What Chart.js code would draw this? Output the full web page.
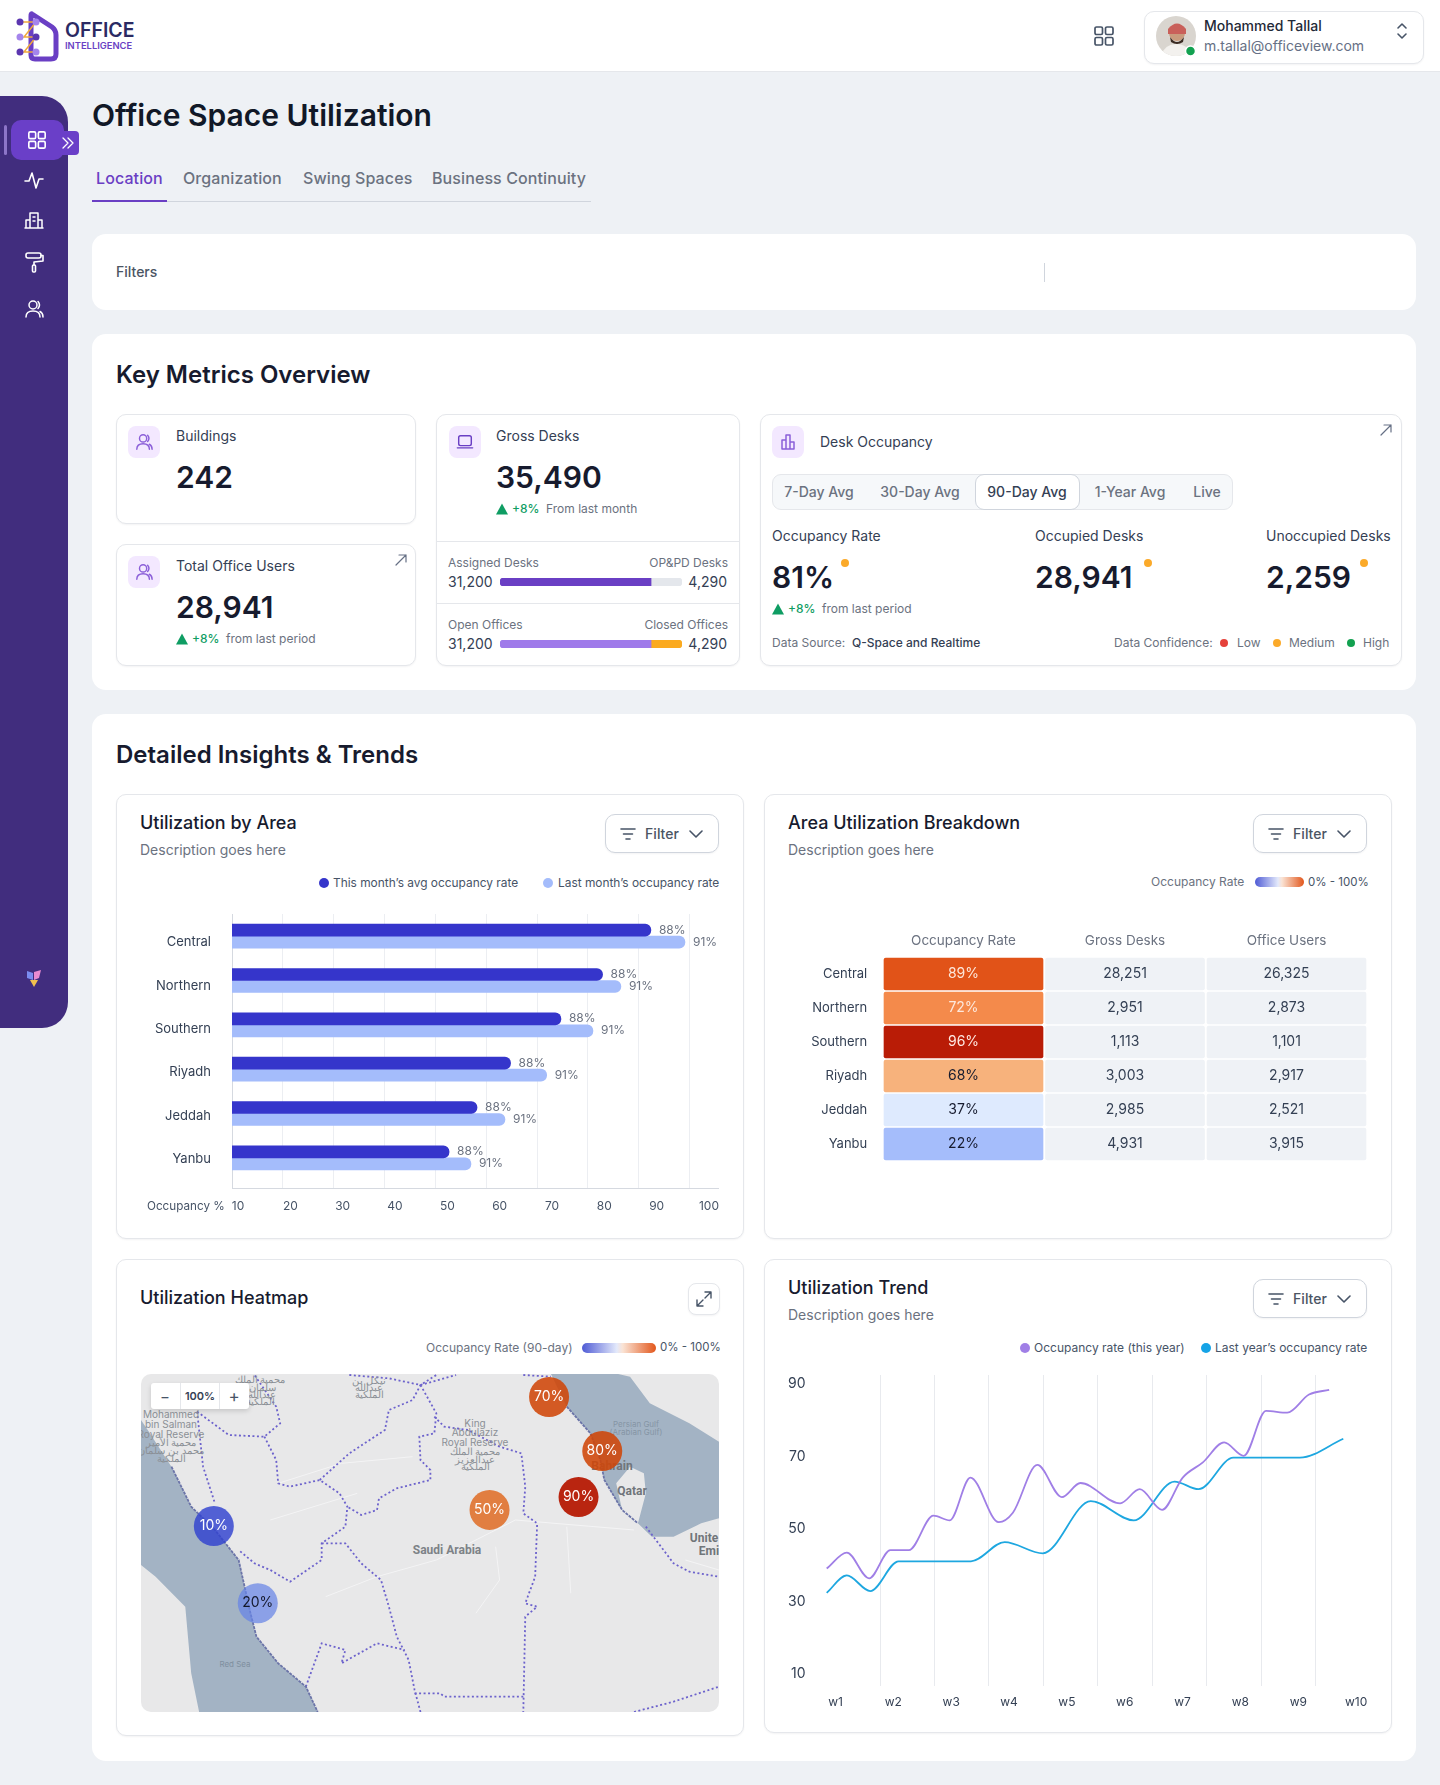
<!DOCTYPE html>
<html>
<head>
<meta charset="utf-8">
<title>Office Space Utilization</title>
<script src="https://cdn.jsdelivr.net/npm/chart.js@4"></script>
<style>
html,body{margin:0;padding:0;}
body{width:1440px;height:1785px;overflow:hidden;background:#eef1f5;font-family:Inter,"Noto Sans",sans-serif;color:#111827;position:relative;}
.box{position:absolute;box-sizing:border-box;}
.card{position:absolute;box-sizing:border-box;background:#fff;border-radius:14px;}
.sub{position:absolute;box-sizing:border-box;background:#fff;border:1px solid #e5e7eb;border-radius:10px;box-shadow:0 1px 2px rgba(16,24,40,.05);}
.t{position:absolute;white-space:nowrap;line-height:1;transform:translateY(-50%);}
.c{position:absolute;white-space:nowrap;line-height:1;transform:translate(-50%,-50%);}
.g{color:#6b7280;}
.dot{position:absolute;border-radius:50%;transform:translate(-50%,-50%);}
.ico{position:absolute;transform:translate(-50%,-50%);fill:none;stroke-linecap:round;stroke-linejoin:round;}
.tile{position:absolute;width:32px;height:32px;border-radius:8px;background:#f3e8ff;}
.kpi{font-size:30px;font-weight:600;color:#171b2e;}
.h3{font-size:18px;font-weight:500;color:#171b2e;}
canvas{position:absolute;}
.up{position:absolute;width:0;height:0;border-left:6px solid transparent;border-right:6px solid transparent;border-bottom:11px solid #0f9d63;transform:translateY(-50%);}
.pos{color:#0f9d63;font-size:12px;font-weight:500;}
.grad{position:absolute;height:10px;border-radius:5px;background:linear-gradient(90deg,#4f5bd5,#e3e9fb 47%,#fae3d4 55%,#e2571c);transform:translateY(-50%);}
.seg{font-size:14px;font-weight:500;color:#6b7280;}
#mapWrap{position:absolute;left:141px;top:1374px;width:578px;height:338px;border-radius:10px;overflow:hidden;background:#e8e8e9;}
#mapWrap svg{position:absolute;left:0;top:0;width:578px;height:338px;}
#mapWrap polyline{fill:none;vector-effect:non-scaling-stroke;}
.ml{position:absolute;white-space:nowrap;line-height:1;transform:translate(-50%,-50%);color:#8b9096;font-size:10px;}
</style>
</head>
<body>

<!-- header -->
<div class="box" style="left:0;top:0;width:1440px;height:72px;background:#fff;border-bottom:1px solid #e5e7eb"></div>
<svg class="box" style="left:14px;top:10px" width="48" height="54" viewBox="0 0 48 54">
  <path d="M18 4 L38 17 Q42 20 42 25 L42 44 Q42 49 37 49 L21 49 Q17 49 17 45 L17 6 Q17 3 18 4 Z" fill="none" stroke="#6a3fc4" stroke-width="5"/>
  <path d="M6 12 L22 12 L10 27 L22 27 L10 42 L22 42" fill="none" stroke="#f0a93b" stroke-width="1.5"/>
  <circle cx="6" cy="12" r="3.5" fill="#5b36b0"/><circle cx="22" cy="12" r="3.5" fill="#a585ec"/>
  <circle cx="6" cy="27" r="3.5" fill="#a585ec"/><circle cx="22" cy="27" r="3.5" fill="#5b36b0"/>
  <circle cx="6" cy="42" r="3.5" fill="#5b36b0"/><circle cx="22" cy="42" r="3.5" fill="#a585ec"/>
</svg>
<div class="t" style="left:65px;top:31px;font-size:19.5px;font-weight:600;color:#2b2a63">OFFICE</div>
<div class="t" style="left:65px;top:46px;font-size:9.4px;font-weight:600;color:#6a3fc4">INTELLIGENCE</div>
<svg class="ico" style="left:1104px;top:36px" width="22" height="22" viewBox="0 0 22 22" stroke="#475467" stroke-width="1.7"><rect x="2" y="2" width="7.5" height="7.5" rx="1.5"/><rect x="12.5" y="2" width="7.5" height="7.5" rx="1.5"/><rect x="2" y="12.5" width="7.5" height="7.5" rx="1.5"/><rect x="12.5" y="12.5" width="7.5" height="7.5" rx="1.5"/></svg>
<div class="sub" style="left:1144px;top:11px;width:280px;height:53px"></div>
<svg class="box" style="left:1156px;top:16px" width="42" height="42" viewBox="0 0 42 42">
  <clipPath id="av"><circle cx="20" cy="20" r="20"/></clipPath>
  <g clip-path="url(#av)"><rect width="42" height="42" fill="#d9d5cf"/><path d="M4 42 Q8 28 20 28 Q33 28 37 42 Z" fill="#f3f1ee"/><circle cx="21" cy="17" r="8" fill="#c99b7d"/><path d="M12 13 Q21 2 30 13 L30 18 L12 18 Z" fill="#c9605a"/><path d="M14 21 Q21 31 28 21 L27 26 Q21 30 15 26 Z" fill="#3a2a22"/></g>
  <circle cx="34.5" cy="35" r="5" fill="#12a150" stroke="#fff" stroke-width="1.5"/>
</svg>
<div class="t" style="left:1204px;top:26px;font-size:14px;font-weight:500;color:#1f2937">Mohammed Tallal</div>
<div class="t g" style="left:1204px;top:46px;font-size:14px;color:#667085">m.tallal@officeview.com</div>
<svg class="ico" style="left:1402px;top:31px" width="14" height="20" viewBox="0 0 14 20" stroke="#475467" stroke-width="1.6"><path d="M3 7 L7 3 L11 7 M3 13 L7 17 L11 13"/></svg>

<!-- sidebar -->
<div class="box" style="left:0;top:96px;width:68px;height:932px;background:#412d7e;border-radius:0 26px 26px 0"></div>
<div class="box" style="left:4px;top:125px;width:3px;height:30px;background:#8d75c8;border-radius:2px"></div>
<div class="box" style="left:11px;top:120px;width:53px;height:40px;background:#6a3fc8;border-radius:10px"></div>
<div class="box" style="left:61px;top:131px;width:18px;height:24px;background:#6a3fc8;border-radius:0 4px 4px 0"></div>
<svg class="ico" style="left:37px;top:140px" width="20" height="20" viewBox="0 0 22 22" stroke="#fff" stroke-width="1.8"><rect x="2" y="2" width="7.5" height="7.5" rx="1.5"/><rect x="12.5" y="2" width="7.5" height="7.5" rx="1.5"/><rect x="2" y="12.5" width="7.5" height="7.5" rx="1.5"/><rect x="12.5" y="12.5" width="7.5" height="7.5" rx="1.5"/></svg>
<svg class="ico" style="left:68px;top:143px" width="14" height="14" viewBox="0 0 14 14" stroke="#fff" stroke-width="1.3"><path d="M2 2 L7 7 L2 12 M7 2 L12 7 L7 12"/></svg>
<svg class="ico" style="left:34px;top:180px" width="20" height="20" viewBox="0 0 20 20" stroke="#fff" stroke-width="1.6"><path d="M1 11 L5 11 L8 3 L12 18 L15 9 L19 9"/></svg>
<svg class="ico" style="left:34px;top:220px" width="20" height="20" viewBox="0 0 20 20" stroke="#fff" stroke-width="1.5"><path d="M2 18 L2 10 L6 10 M6 18 L6 3 L14 3 L14 18 M14 10 L18 10 L18 18 M1 18 L19 18 M9 7 L11 7 M9 11 L11 11"/></svg>
<svg class="ico" style="left:34px;top:262px" width="20" height="22" viewBox="0 0 20 22" stroke="#fff" stroke-width="1.6"><rect x="2" y="2" width="15" height="5" rx="2"/><path d="M17 4.5 L19 4.5 L19 10 L10 11 L10 14"/><rect x="8.5" y="14" width="3" height="7" rx="1"/></svg>
<svg class="ico" style="left:34px;top:309px" width="20" height="20" viewBox="0 0 20 20" stroke="#fff" stroke-width="1.5"><circle cx="9" cy="6" r="4"/><path d="M2 18 Q2 12 9 12 Q16 12 16 18 M14 2.5 Q17 6 14 9.5 M16 12.5 Q19 14 19 18"/></svg>
<svg class="ico" style="left:34px;top:978px" width="20" height="20" viewBox="0 0 20 20"><path d="M3 3 L9 5 L9 12 L3 10 Z" fill="#7a8cf0"/><path d="M10 4 L17 2 L15 10 L10 12 Z" fill="#e98ad0"/><path d="M6 12 L14 12 L10 19 Z" fill="#f2c14e"/></svg>

<!-- title and tabs -->
<div class="t" style="left:92px;top:115px;font-size:30px;font-weight:600;color:#111827">Office Space Utilization</div>
<div class="t" style="left:96px;top:178px;font-size:16px;font-weight:500;letter-spacing:.1px;color:#6a3fc4">Location</div>
<div class="t g" style="left:183px;top:178px;font-size:16px;font-weight:500;letter-spacing:.1px">Organization</div>
<div class="t g" style="left:303px;top:178px;font-size:16px;font-weight:500;letter-spacing:.1px">Swing Spaces</div>
<div class="t g" style="left:432px;top:178px;font-size:16px;font-weight:500;letter-spacing:.1px">Business Continuity</div>
<div class="box" style="left:92px;top:201px;width:499px;height:1px;background:#d0d5dd"></div>
<div class="box" style="left:92px;top:200px;width:75px;height:2px;background:#6a3fc4"></div>

<!-- filters -->
<div class="card" style="left:92px;top:234px;width:1324px;height:76px"></div>
<div class="t" style="left:116px;top:272px;font-size:14px;font-weight:500;color:#4b5563">Filters</div>
<div class="box" style="left:1044px;top:263px;width:1px;height:19px;background:#d0d5dd"></div>

<!-- key metrics -->
<div class="card" style="left:92px;top:334px;width:1324px;height:356px"></div>
<div class="t" style="left:116px;top:375px;font-size:24px;font-weight:600;color:#171b2e">Key Metrics Overview</div>

<div class="sub" style="left:116px;top:414px;width:300px;height:110px"></div>
<div class="tile" style="left:128px;top:426px"></div>
<svg class="ico" style="left:144px;top:442px" width="18" height="18" viewBox="0 0 20 20" stroke="#8b5fd9" stroke-width="1.6"><circle cx="9" cy="6" r="4"/><path d="M2 18 Q2 12 9 12 Q16 12 16 18 M14 2.5 Q17 6 14 9.5 M16 12.5 Q19 14 19 18"/></svg>
<div class="t" style="left:176px;top:436px;font-size:14px;color:#344054">Buildings</div>
<div class="t kpi" style="left:176px;top:477px">242</div>

<div class="sub" style="left:116px;top:544px;width:300px;height:122px"></div>
<div class="tile" style="left:128px;top:556px"></div>
<svg class="ico" style="left:144px;top:572px" width="18" height="18" viewBox="0 0 20 20" stroke="#8b5fd9" stroke-width="1.6"><circle cx="9" cy="6" r="4"/><path d="M2 18 Q2 12 9 12 Q16 12 16 18 M14 2.5 Q17 6 14 9.5 M16 12.5 Q19 14 19 18"/></svg>
<div class="t" style="left:176px;top:566px;font-size:14px;color:#344054">Total Office Users</div>
<div class="t kpi" style="left:176px;top:607px">28,941</div>
<div class="up" style="left:176px;top:639px"></div>
<div class="t pos" style="left:192px;top:639px">+8%</div>
<div class="t g" style="left:226px;top:639px;font-size:12px">from last period</div>
<svg class="ico" style="left:401px;top:560px" width="14" height="14" viewBox="0 0 14 14" stroke="#667085" stroke-width="1.2"><path d="M2 12 L12 2 M5 2 L12 2 L12 9"/></svg>

<div class="sub" style="left:436px;top:414px;width:304px;height:252px"></div>
<div class="tile" style="left:449px;top:426px"></div>
<svg class="ico" style="left:465px;top:442px" width="18" height="18" viewBox="0 0 20 20" stroke="#6a3fc4" stroke-width="1.6"><rect x="3" y="3" width="14" height="11" rx="2"/><path d="M1.5 16.5 L18.5 16.5"/></svg>
<div class="t" style="left:496px;top:436px;font-size:14px;color:#344054">Gross Desks</div>
<div class="t kpi" style="left:496px;top:477px">35,490</div>
<div class="up" style="left:496px;top:509px"></div>
<div class="t pos" style="left:512px;top:509px">+8%</div>
<div class="t g" style="left:546px;top:509px;font-size:12px">From last month</div>
<div class="box" style="left:437px;top:541px;width:302px;height:1px;background:#e5e7eb"></div>
<div class="t g" style="left:448px;top:563px;font-size:12px">Assigned Desks</div>
<div class="t g" style="right:712px;top:563px;font-size:12px">OP&amp;PD Desks</div>
<div class="t" style="left:448px;top:582px;font-size:14px;color:#344054">31,200</div>
<div class="t" style="right:713px;top:582px;font-size:14px;color:#344054">4,290</div>
<canvas id="deskSplit" width="182" height="8" style="left:500px;top:578px;width:182px;height:8px"></canvas>
<div class="box" style="left:437px;top:603px;width:302px;height:1px;background:#e5e7eb"></div>
<div class="t g" style="left:448px;top:625px;font-size:12px">Open Offices</div>
<div class="t g" style="right:712px;top:625px;font-size:12px">Closed Offices</div>
<div class="t" style="left:448px;top:644px;font-size:14px;color:#344054">31,200</div>
<div class="t" style="right:713px;top:644px;font-size:14px;color:#344054">4,290</div>
<canvas id="officeSplit" width="182" height="8" style="left:500px;top:640px;width:182px;height:8px"></canvas>

<div class="sub" style="left:760px;top:414px;width:642px;height:252px"></div>
<div class="tile" style="left:772px;top:426px"></div>
<svg class="ico" style="left:788px;top:442px" width="18" height="18" viewBox="0 0 18 18" stroke="#8b5fd9" stroke-width="1.5"><path d="M3 16 L3 7 L7 7 L7 16 M7 16 L7 2 L11 2 L11 16 M11 16 L11 9 L15 9 L15 16 Z M3 16 L15 16"/></svg>
<div class="t" style="left:820px;top:442px;font-size:14px;color:#344054">Desk Occupancy</div>
<svg class="ico" style="left:1386px;top:430px" width="14" height="14" viewBox="0 0 14 14" stroke="#667085" stroke-width="1.2"><path d="M2 12 L12 2 M5 2 L12 2 L12 9"/></svg>
<div class="box" style="left:772px;top:474px;width:461px;height:36px;background:#f6f8fa;border:1px solid #e5e7eb;border-radius:9px"></div>
<div class="box" style="left:975px;top:474px;width:105px;height:36px;background:#fff;border:1px solid #d0d5dd;border-radius:9px"></div>
<div class="c seg" style="left:819px;top:492px">7-Day Avg</div>
<div class="c seg" style="left:920px;top:492px">30-Day Avg</div>
<div class="c seg" style="left:1027px;top:492px;color:#344054">90-Day Avg</div>
<div class="c seg" style="left:1130px;top:492px">1-Year Avg</div>
<div class="c seg" style="left:1207px;top:492px">Live</div>
<div class="t" style="left:772px;top:536px;font-size:14px;color:#344054">Occupancy Rate</div>
<div class="t" style="left:1035px;top:536px;font-size:14px;color:#344054">Occupied Desks</div>
<div class="t" style="left:1266px;top:536px;font-size:14px;color:#344054">Unoccupied Desks</div>
<div class="t kpi" style="left:772px;top:577px">81%</div>
<div class="t kpi" style="left:1035px;top:577px">28,941</div>
<div class="t kpi" style="left:1266px;top:577px">2,259</div>
<div class="dot" style="left:845px;top:563px;width:8px;height:8px;background:#fbaa2a"></div>
<div class="dot" style="left:1148px;top:563px;width:8px;height:8px;background:#fbaa2a"></div>
<div class="dot" style="left:1364px;top:563px;width:8px;height:8px;background:#fbaa2a"></div>
<div class="up" style="left:772px;top:609px"></div>
<div class="t pos" style="left:788px;top:609px">+8%</div>
<div class="t g" style="left:822px;top:609px;font-size:12px">from last period</div>
<div class="t g" style="left:772px;top:643px;font-size:12px">Data Source:</div>
<div class="t" style="left:852px;top:643px;font-size:12px;font-weight:500;color:#344054">Q-Space and Realtime</div>
<div class="t g" style="left:1114px;top:643px;font-size:12px">Data Confidence:</div>
<div class="dot" style="left:1224px;top:643px;width:8px;height:8px;background:#e5413a"></div>
<div class="t g" style="left:1237px;top:643px;font-size:12px">Low</div>
<div class="dot" style="left:1277px;top:643px;width:8px;height:8px;background:#fbaa2a"></div>
<div class="t g" style="left:1289px;top:643px;font-size:12px">Medium</div>
<div class="dot" style="left:1351px;top:643px;width:8px;height:8px;background:#12a150"></div>
<div class="t g" style="left:1363px;top:643px;font-size:12px">High</div>

<!-- insights -->
<div class="card" style="left:92px;top:714px;width:1324px;height:1047px"></div>
<div class="t" style="left:116px;top:755px;font-size:24px;font-weight:600;color:#171b2e">Detailed Insights &amp; Trends</div>

<div class="sub" style="left:116px;top:794px;width:628px;height:445px"></div>
<div class="t h3" style="left:140px;top:823px">Utilization by Area</div>
<div class="t g" style="left:140px;top:850px;font-size:14px">Description goes here</div>
<div class="dot" style="left:324px;top:883px;width:10px;height:10px;background:#3535cb"></div>
<div class="t" style="left:333px;top:883px;font-size:11.9px;color:#475467">This month’s avg occupancy rate</div>
<div class="dot" style="left:548px;top:883px;width:10px;height:10px;background:#a4bcfb"></div>
<div class="t" style="left:558px;top:883px;font-size:11.9px;color:#475467">Last month’s occupancy rate</div>
<canvas id="areaChart" width="622" height="330" style="left:118px;top:900px;width:622px;height:330px"></canvas>
<div class="t g" style="left:147px;top:1207px;font-size:11.7px;color:#475467">Occupancy %</div>

<div class="sub" style="left:764px;top:794px;width:628px;height:445px"></div>
<div class="t h3" style="left:788px;top:823px">Area Utilization Breakdown</div>
<div class="t g" style="left:788px;top:850px;font-size:14px">Description goes here</div>
<div class="t g" style="left:1151px;top:882px;font-size:12px">Occupancy Rate</div>
<div class="grad" style="left:1255px;top:882px;width:49px"></div>
<div class="t" style="left:1308px;top:883px;font-size:11.5px;color:#475467">0% - 100%</div>
<canvas id="breakdownChart" width="610" height="250" style="left:770px;top:920px;width:610px;height:250px"></canvas>

<div class="sub" style="left:116px;top:1259px;width:628px;height:477px"></div>
<div class="t h3" style="left:140px;top:1298px">Utilization Heatmap</div>
<div class="sub" style="left:688px;top:1283px;width:32px;height:32px;border-radius:8px"></div>
<svg class="ico" style="left:704px;top:1299px" width="20" height="20" viewBox="0 0 20 20" stroke="#475467" stroke-width="1.4"><path d="M3 17 L9 11 M3 11 L3 17 L9 17 M11 9 L17 3 M11 3 L17 3 L17 9"/></svg>
<div class="t g" style="left:426px;top:1348px;font-size:12px">Occupancy Rate (90-day)</div>
<div class="grad" style="left:582px;top:1348px;width:74px"></div>
<div class="t" style="left:660px;top:1348px;font-size:11.5px;color:#475467">0% - 100%</div>
<div id="mapWrap">
  <svg viewBox="53 342 1462 1014" preserveAspectRatio="none">
    <polygon fill="#a3b3c4" points="53,480 70,510 130,620 180,740 240,810 300,900 330,1060 345,1130 400,1210 470,1280 500,1356 200,1356 180,1240 165,1040 90,950 53,915"/>
    <polygon fill="#a3b3c4" points="1090,342 1130,440 1190,520 1215,600 1225,660 1270,750 1255,670 1290,620 1325,640 1330,700 1310,790 1345,830 1400,830 1470,790 1515,775 1515,545 1440,490 1340,430 1290,350 1260,342"/>
    <g stroke="#f4f4f5" stroke-width="1">
      <polyline points="400,670 560,610 740,590"/><polyline points="380,780 600,700"/><polyline points="520,1010 650,950 800,900 1000,780 1300,810"/>
      <polyline points="1130,800 1140,1000"/><polyline points="1430,900 1515,930"/><polyline points="950,860 960,960 900,1060"/>
    </g>
    <g stroke="#6c62cc" stroke-width="1.8" stroke-dasharray="2 2.5">
      <polyline points="195,455 235,490 275,525 365,530 405,490 395,440 340,345"/>
      <polyline points="365,530 395,600 400,670 430,680 505,660 555,700 575,740 570,800 510,850 510,900 430,965 380,930 340,910 300,870"/>
      <polyline points="505,660 580,580 670,510 680,450 740,420 760,375 800,345"/>
      <polyline points="760,375 800,460 795,520 757,530 760,600 785,630 785,660 700,685 655,715 650,750 610,765 575,740"/>
      <polyline points="795,470 820,500 880,510 960,560 1015,580 1025,680 1020,760 1055,790 1050,950 1025,1030 1055,1040 1025,1070 1020,1356"/>
      <polyline points="510,850 570,850 610,910 660,960 680,1040 700,1130 730,1200 745,1290 760,1356"/>
      <polyline points="745,1300 810,1300 820,1310 1020,1310"/>
      <polyline points="1330,800 1400,910 1440,935 1515,950"/>
      <polyline points="1300,1356 1400,1325 1515,1280"/>
      <polyline points="470,1280 510,1150 570,1170 560,1210 650,1150 720,1170"/>
      <polyline points="580,345 680,355 760,375 850,345"/>
      <polyline points="1020,345 1090,350"/>
      <polyline points="195,455 210,620 240,730"/>
    </g>
    <g stroke="#6b74a8" stroke-width="1.8" stroke-dasharray="3 1">
      <polyline points="130,620 180,740 240,810 300,900 330,1060 345,1130 400,1210 470,1280 500,1356"/>
      <polyline points="1130,440 1190,520 1215,600 1225,660 1270,750 1310,790"/>
    </g>
  </svg>
  <div id="mapLabels"></div>
</div>
<div class="box" style="left:151px;top:1383px;width:98px;height:26px;background:#fff;border-radius:3px;box-shadow:0 2px 5px rgba(0,0,0,.15)"></div>
<div class="box" style="left:180px;top:1383px;width:1px;height:26px;background:#e5e7eb"></div>
<div class="box" style="left:219px;top:1383px;width:1px;height:26px;background:#e5e7eb"></div>
<div class="c" style="left:165px;top:1396px;font-size:15px;color:#475467">−</div>
<div class="c" style="left:200px;top:1396px;font-size:11px;font-weight:600;color:#344054">100%</div>
<div class="c" style="left:234px;top:1396px;font-size:17px;color:#475467">+</div>
<canvas id="heatmapChart" width="578" height="338" style="left:141px;top:1374px;width:578px;height:338px"></canvas>

<div class="sub" style="left:764px;top:1259px;width:628px;height:474px"></div>
<div class="t h3" style="left:788px;top:1288px">Utilization Trend</div>
<div class="t g" style="left:788px;top:1315px;font-size:14px">Description goes here</div>
<div class="dot" style="left:1025px;top:1348px;width:10px;height:10px;background:#a07fe6"></div>
<div class="t" style="left:1034px;top:1348px;font-size:12px;color:#475467">Occupancy rate (this year)</div>
<div class="dot" style="left:1206px;top:1348px;width:10px;height:10px;background:#15a3e6"></div>
<div class="t" style="left:1215px;top:1348px;font-size:12px;color:#475467">Last year’s occupancy rate</div>
<canvas id="trendChart" width="620" height="365" style="left:770px;top:1361px;width:620px;height:365px"></canvas>

<div id="filters"></div>

<script>
// DATI grafico Utilization by Area
const areaCategories = ['Central', 'Northern', 'Southern', 'Riyadh', 'Jeddah', 'Yanbu'];
const thisMonthBars = [92.4, 82.9, 74.7, 64.8, 58.2, 52.7];
const lastMonthBars = [99.1, 86.5, 81.0, 71.9, 63.7, 57.0];
const thisMonthLabels = ['88%', '88%', '88%', '88%', '88%', '88%'];
const lastMonthLabels = ['91%', '91%', '91%', '91%', '91%', '91%'];
const areaTicks = [10, 20, 30, 40, 50, 60, 70, 80, 90, 100];
// nel disegno i nomi scivolano rispetto alle barre
const areaLabelRows = [0.14, 1.12, 2.09, 3.07, 4.05, 5.02];

// DATI tabella Area Utilization Breakdown
const breakdownColumns = ['Occupancy Rate', 'Gross Desks', 'Office Users'];
const occupancyRates = [89, 72, 96, 68, 37, 22];
const grossDesks = [28251, 2951, 1113, 3003, 2985, 4931];
const officeUsers = [26325, 2873, 1101, 2917, 2521, 3915];

// DATI mappa: posizione in % della mappa
const bubbleRates = [70, 80, 90, 50, 10, 20];
const bubbleMapX = [70.6, 79.8, 75.7, 60.3, 12.6, 20.2];
const bubbleMapY = [6.8, 22.8, 36.4, 40.2, 45.0, 67.8];

// DATI grafico Utilization Trend
const thisYearWeeks = [0.02, 0.39, 0.80, 1.19, 1.53, 1.98, 2.28, 2.66, 3.18, 3.44, 3.89, 4.34, 4.68, 5.41, 5.77, 6.18, 6.56, 6.93, 7.32, 7.68, 8.09, 8.48, 8.88, 9.25];
const thisYearRates = [39.1, 43.5, 36.4, 44.2, 44.2, 53.7, 52.4, 64.2, 51.9, 54.5, 67.7, 58.8, 62.7, 57.1, 61.0, 55.3, 64.2, 68.4, 73.9, 70.2, 82.6, 82.1, 87.1, 88.4];
const lastYearWeeks = [0.02, 0.39, 0.82, 1.34, 2.67, 3.29, 3.99, 4.87, 5.66, 6.41, 6.85, 7.49, 8.71, 9.51];
const lastYearRates = [32.4, 37.2, 32.9, 41.1, 41.1, 46.4, 43.3, 57.7, 52.4, 63.1, 61.0, 69.7, 69.7, 74.9];
const weekLabels = ['w1', 'w2', 'w3', 'w4', 'w5', 'w6', 'w7', 'w8', 'w9', 'w10'];
const trendTicks = [10, 30, 50, 70, 90];
const trendGridWeeks = [1, 2, 3, 4, 5, 6, 7, 8, 9];

// DATI barre piccole (quota)
const deskSplit = [83, 17];
const officeSplit = [83, 17];

const FONT = 'Inter';
Chart.defaults.font.family = FONT;
Chart.defaults.animation = false;
Chart.defaults.responsive = false;
Chart.defaults.plugins.legend.display = false;
Chart.defaults.plugins.tooltip.enabled = false;

function setTicks(values) {
    return scale => { scale.ticks = values.map(v => ({ value: v })); };
}

// dimensione fissa dell'asse, senza il margine extra per le etichette
function fixWidth(w) {
    return s => { s.width = w; s.paddingTop = 0; s.paddingBottom = 0; s.paddingLeft = 0; s.paddingRight = 0; };
}
function fixHeight(h) {
    return s => { s.height = h; s.paddingTop = 0; s.paddingBottom = 0; s.paddingLeft = 0; s.paddingRight = 0; };
}

//FILTER BUTTONS
function filterButton(x, y) {
    return `<div class="sub" style="left:${x}px;top:${y}px;width:114px;height:39px;border-color:#d0d5dd"></div>
    <svg class="ico" style="left:${x + 23}px;top:${y + 20}px" width="16" height="12" viewBox="0 0 16 12" stroke="#475467" stroke-width="1.6"><path d="M1 1 L15 1 M3.5 6 L12.5 6 M6 11 L10 11"/></svg>
    <div class="c" style="left:${x + 57}px;top:${y + 20}px;font-size:14px;font-weight:500;color:#4b5563">Filter</div>
    <svg class="ico" style="left:${x + 91}px;top:${y + 20}px" width="14" height="8" viewBox="0 0 14 8" stroke="#475467" stroke-width="1.6"><path d="M1 1 L7 7 L13 1"/></svg>`;
}
document.getElementById('filters').innerHTML = filterButton(605, 814) + filterButton(1253, 814) + filterButton(1253, 1279);

//MAP LABELS
const mapLabels = [
    ['Saudi Arabia', 306, 176, 'font-size:12px;font-weight:700;font-family:Roboto;color:#7d8287'],
    ['Qatar', 491, 117, 'font-size:12px;font-weight:700;font-family:Roboto;color:#70757a'],
    ['Bahrain', 471, 92, 'font-size:12px;font-weight:700;font-family:Roboto;color:#70757a'],
    ['Unite', 563, 164, 'font-size:12px;font-weight:700;font-family:Roboto;color:#70757a'],
    ['Emi', 568, 177, 'font-size:12px;font-weight:700;font-family:Roboto;color:#70757a'],
    ['King', 334, 49, ''], ['Abdulaziz', 334, 58, ''], ['Royal Reserve', 334, 68, ''],
    ['محمية الملك', 334, 77, ''], ['عبدالعزيز', 334, 85, ''], ['الملكية', 334, 92, ''],
    ['Mohammed', 30, 40, ''], ['bin Salman', 30, 50, ''], ['Royal Reserve', 30, 60, ''],
    ['محمية الأمير', 30, 68, ''], ['محمد بن سلمان', 30, 76, ''], ['الملكية', 30, 84, ''],
    ['محمية الملك', 119, 5, ''], ['سلمان', 121, 13, ''], ['عبدالله', 121, 20, ''], ['الملكية', 119, 27, ''],
    ['نيكل بن', 228, 6, ''], ['عبدالله', 228, 13, ''], ['الملكية', 228, 20, ''],
    ['Persian Gulf', 495, 50, 'font-size:8px;color:#8595a5'], ['(Arabian Gulf)', 495, 58, 'font-size:8px;color:#8595a5'],
    ['Red Sea', 94, 290, 'font-size:8px;color:#7f8f9f']
];
document.getElementById('mapLabels').innerHTML = mapLabels.map(l =>
    `<div class="ml" style="left:${l[1]}px;top:${l[2]}px;${l[3]}">${l[0]}</div>`).join('');

//SMALL STACKED BARS
function splitBar(id, split, colors) {
    new Chart(document.getElementById(id), {
        type: 'bar',
        data: {
            labels: [''],
            datasets: [
                { data: [split[0]], backgroundColor: colors[0], borderSkipped: false, borderRadius: { topLeft: 4, bottomLeft: 4 }, barPercentage: 1, categoryPercentage: 1 },
                { data: [split[1]], backgroundColor: colors[1], borderSkipped: false, borderRadius: { topRight: 4, bottomRight: 4 }, barPercentage: 1, categoryPercentage: 1 }
            ]
        },
        options: {
            indexAxis: 'y',
            layout: { padding: 0 },
            scales: {
                x: { display: false, stacked: true, min: 0, max: 100 },
                y: { display: false, stacked: true }
            }
        }
    });
}
splitBar('deskSplit', deskSplit, ['#6a3fc4', '#e4e7ec']);
splitBar('officeSplit', officeSplit, ['#9f7aea', '#fbaa1f']);

//GRAFICO UTILIZATION BY AREA
const barValueLabels = {
    id: 'barValueLabels',
    afterDatasetsDraw(chart) {
        const ctx = chart.ctx;
        const texts = [thisMonthLabels, lastMonthLabels];
        ctx.save();
        ctx.font = '12px ' + FONT;
        ctx.fillStyle = '#6b7280';
        ctx.textBaseline = 'middle';
        chart.data.datasets.forEach((ds, d) => {
            chart.getDatasetMeta(d).data.forEach((bar, i) => ctx.fillText(texts[d][i], bar.x + 8, bar.y));
        });
        ctx.restore();
    }
};
new Chart(document.getElementById('areaChart'), {
    type: 'bar',
    data: {
        datasets: [
            { label: "This month's avg occupancy rate", data: thisMonthBars.map((v, i) => ({ x: v, y: i })), backgroundColor: '#3535cb' },
            { label: "Last month's occupancy rate", data: lastMonthBars.map((v, i) => ({ x: v, y: i })), backgroundColor: '#a4bcfb' }
        ]
    },
    options: {
        indexAxis: 'y',
        layout: { padding: { top: 14, right: 22 } },
        datasets: { bar: { barThickness: 12, borderRadius: 6 } },
        scales: {
            y: {
                type: 'linear', reverse: true, offset: false, min: -0.5, max: 5.68,
                afterBuildTicks: setTicks(areaLabelRows),
                afterFit: fixWidth(114),
                grid: { display: false, offset: false },
                border: { color: '#d5d9e0' },
                ticks: { callback: (v, i) => areaCategories[i], padding: 13, color: '#344054', font: { size: 13 } }
            },
            x: {
                type: 'linear', min: 10, max: 105.6,
                afterBuildTicks: setTicks(areaTicks),
                afterFit: fixHeight(0),
                grid: { color: '#eceef2', drawTicks: false },
                border: { color: '#d5d9e0' },
                ticks: { display: false }
            },
            // le etichette nel disegno non sono allineate con la griglia
            x2: {
                type: 'linear', axis: 'x', position: 'bottom', weight: 1, min: 8.85, max: 101.72,
                afterBuildTicks: setTicks(areaTicks),
                afterFit: fixHeight(42),
                grid: { display: false },
                border: { display: false },
                ticks: { maxRotation: 0, autoSkip: false, padding: 3, color: '#475467', font: { size: 12 } }
            }
        }
    },
    plugins: [barValueLabels]
});

//TABELLA AREA UTILIZATION BREAKDOWN
const rateColors = { 89: '#e15318', 72: '#f48a4b', 96: '#b91c06', 68: '#f7b27c', 37: '#deeafe', 22: '#a5bdfb' };
const rateTextColors = { 89: '#fde8dc', 72: '#fde8dc', 96: '#ffe9e2', 68: '#171b2e', 37: '#171b2e', 22: '#171b2e' };
const cellLabels = {
    id: 'cellLabels',
    afterDatasetsDraw(chart) {
        const ctx = chart.ctx;
        ctx.save();
        ctx.font = '14px ' + FONT;
        ctx.textAlign = 'center';
        ctx.textBaseline = 'middle';
        areaCategories.forEach((name, row) => {
            const cells = chart.getDatasetMeta(row).data;
            const y = (cells[0].y + cells[0].base) / 2;
            ctx.fillStyle = rateTextColors[occupancyRates[row]];
            ctx.fillText(occupancyRates[row] + '%', cells[0].x, y);
            ctx.fillStyle = '#344054';
            ctx.fillText(grossDesks[row].toLocaleString('en-US'), cells[1].x, y);
            ctx.fillText(officeUsers[row].toLocaleString('en-US'), cells[2].x, y);
        });
        ctx.restore();
    }
};
new Chart(document.getElementById('breakdownChart'), {
    type: 'bar',
    data: {
        labels: breakdownColumns,
        datasets: areaCategories.map((name, row) => ({
            label: name,
            data: breakdownColumns.map(() => [row - 0.47, row + 0.47]),
            backgroundColor: [rateColors[occupancyRates[row]], '#eff2f6', '#eff2f6'],
            grouped: false,
            barThickness: 159,
            borderRadius: 2,
            borderSkipped: false
        }))
    },
    options: {
        layout: { padding: { right: 12.75, bottom: 9 } },
        scales: {
            x: {
                position: 'top',
                afterFit: fixHeight(37),
                grid: { display: false, drawTicks: false },
                border: { display: false },
                ticks: { padding: 8, color: '#6b7280', font: { size: 13.5 } }
            },
            y: {
                type: 'linear', reverse: true, min: -0.5, max: 5.5,
                afterBuildTicks: setTicks(areaCategories.map((c, i) => i)),
                afterFit: fixWidth(112.75),
                grid: { display: false, drawTicks: false },
                border: { display: false },
                ticks: { callback: v => areaCategories[v], padding: 15.5, color: '#344054', font: { size: 13 } }
            }
        }
    },
    plugins: [cellLabels]
});

//MAPPA UTILIZATION HEATMAP
const bubbleColors = {
    70: 'rgba(207,70,8,.88)', 80: 'rgba(207,70,8,.88)', 90: 'rgba(182,26,4,.95)',
    50: 'rgba(224,116,50,.92)', 10: 'rgba(49,66,208,.82)', 20: 'rgba(102,132,230,.72)'
};
const bubbleLabels = {
    id: 'bubbleLabels',
    afterDatasetsDraw(chart) {
        const ctx = chart.ctx;
        ctx.save();
        ctx.font = '14px ' + FONT;
        ctx.textAlign = 'center';
        ctx.textBaseline = 'middle';
        chart.getDatasetMeta(0).data.forEach((pt, i) => {
            ctx.fillStyle = bubbleRates[i] === 20 ? '#14182b' : '#fff';
            ctx.fillText(bubbleRates[i] + '%', pt.x, pt.y);
        });
        ctx.restore();
    }
};
new Chart(document.getElementById('heatmapChart'), {
    type: 'bubble',
    data: {
        datasets: [{
            label: 'Occupancy Rate (90-day)',
            data: bubbleRates.map((r, i) => ({ x: bubbleMapX[i], y: bubbleMapY[i], r: 20 })),
            backgroundColor: bubbleRates.map(r => bubbleColors[r]),
            borderWidth: 0,
            clip: false
        }]
    },
    options: {
        layout: { padding: 0, autoPadding: false },
        scales: {
            x: { display: false, min: 0, max: 100 },
            y: { display: false, min: 0, max: 100, reverse: true }
        }
    },
    plugins: [bubbleLabels]
});

//GRAFICO UTILIZATION TREND
new Chart(document.getElementById('trendChart'), {
    type: 'line',
    data: {
        datasets: [
            {
                label: 'Occupancy rate (this year)',
                data: thisYearWeeks.map((w, i) => ({ x: w, y: thisYearRates[i] })),
                borderColor: '#a07fe6', borderWidth: 1.8, pointRadius: 0, cubicInterpolationMode: 'monotone'
            },
            {
                label: "Last year's occupancy rate",
                data: lastYearWeeks.map((w, i) => ({ x: w, y: lastYearRates[i] })),
                borderColor: '#1ea7e0', borderWidth: 1.8, pointRadius: 0, cubicInterpolationMode: 'monotone'
            }
        ]
    },
    options: {
        layout: { padding: { top: 14, right: 20 } },
        scales: {
            y: {
                min: 6.7, max: 92.5,
                afterBuildTicks: setTicks(trendTicks),
                afterFit: fixWidth(55.6),
                grid: { display: false, drawTicks: false },
                border: { display: false },
                ticks: { padding: 20, color: '#344054', font: { size: 14 } }
            },
            x: {
                type: 'linear', min: 0, max: 10,
                afterBuildTicks: setTicks(trendGridWeeks),
                afterFit: fixHeight(0),
                grid: { color: '#e8eaee', drawTicks: false },
                border: { display: false },
                ticks: { display: false }
            },
            x2: {
                type: 'linear', axis: 'x', position: 'bottom', weight: 1, min: 0.829, max: 10.24,
                afterBuildTicks: setTicks(weekLabels.map((w, i) => i + 1)),
                afterFit: fixHeight(40),
                grid: { display: false },
                border: { display: false },
                ticks: { callback: v => weekLabels[v - 1], autoSkip: false, maxRotation: 0, padding: 1, color: '#344054', font: { size: 12 } }
            }
        }
    }
});
</script>
</body>
</html>
